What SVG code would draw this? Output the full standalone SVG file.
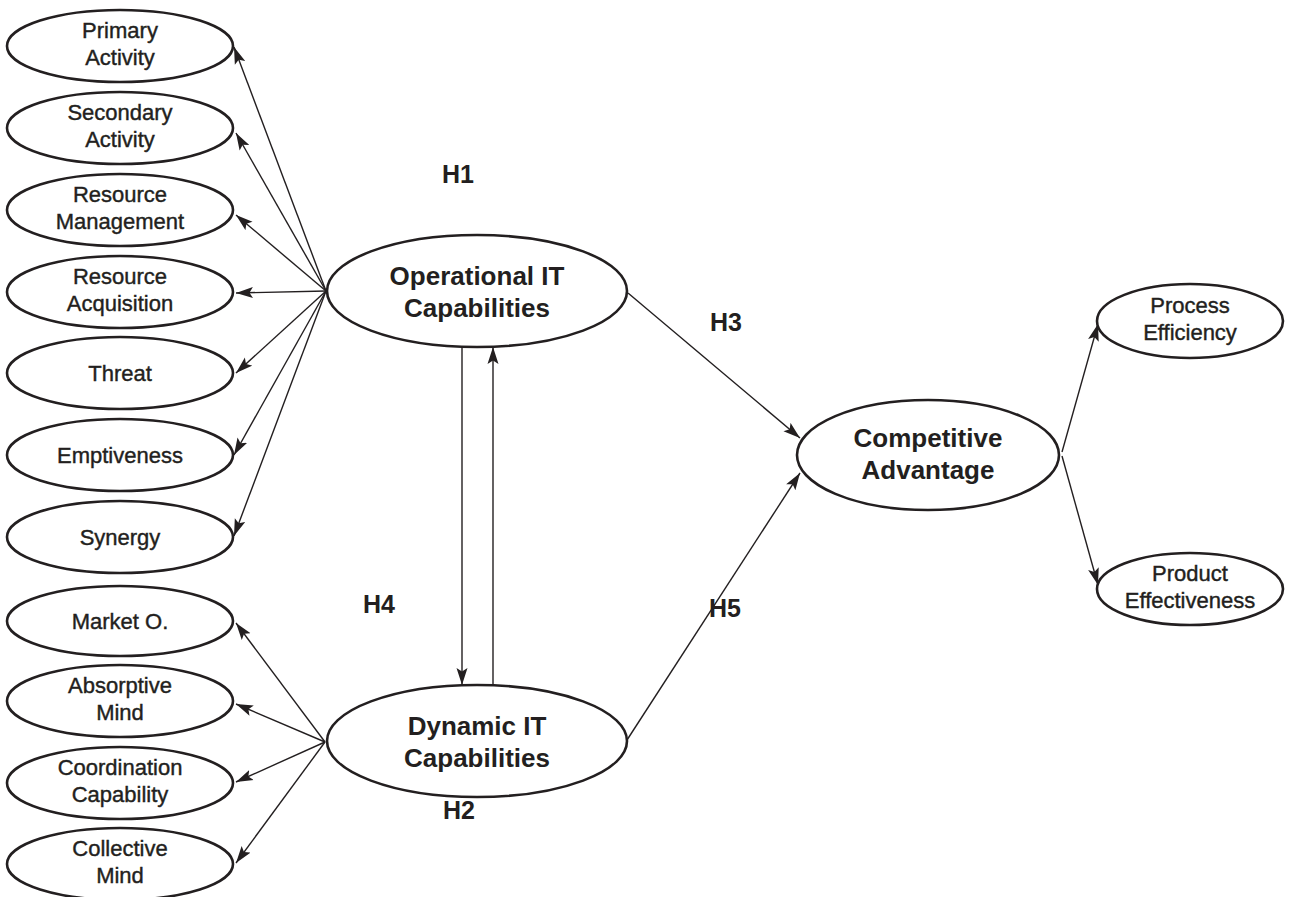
<svg xmlns="http://www.w3.org/2000/svg" width="1291" height="897" viewBox="0 0 1291 897">
<style>
.node ellipse{fill:#fff;stroke:#231f20;stroke-width:2.6}
.sm{font-family:"Liberation Sans",Arial,sans-serif;font-size:22px;fill:#231f20;text-anchor:middle;stroke:#231f20;stroke-width:0.4}
.bg{font-family:"Liberation Sans",Arial,sans-serif;font-size:26px;font-weight:bold;fill:#231f20;text-anchor:middle}
.hl{font-family:"Liberation Sans",Arial,sans-serif;font-size:25px;font-weight:bold;fill:#231f20;text-anchor:middle}
#connectors line{stroke:#231f20;stroke-width:1.4;marker-end:url(#ah)}
</style>
<defs>
<marker id="ah" markerWidth="18" markerHeight="12" refX="17" refY="6" orient="auto" markerUnits="userSpaceOnUse">
<path d="M0,0.5 L17,6 L0,11.5 L3.5,6 Z" fill="#231f20"/>
</marker>
</defs>
<rect width="1291" height="897" fill="#fff"/>
<g id="connectors">
<line x1="326" y1="291" x2="234" y2="47"/>
<line x1="326" y1="291" x2="236" y2="133"/>
<line x1="326" y1="291" x2="236" y2="215"/>
<line x1="326" y1="291" x2="236" y2="293"/>
<line x1="326" y1="291" x2="236" y2="373"/>
<line x1="326" y1="291" x2="234" y2="455"/>
<line x1="326" y1="291" x2="234" y2="536"/>
<line x1="325" y1="742" x2="236" y2="623"/>
<line x1="325" y1="742" x2="236" y2="704"/>
<line x1="325" y1="742" x2="236" y2="782"/>
<line x1="325" y1="742" x2="236" y2="863"/>
<line x1="462" y1="347" x2="462" y2="685"/>
<line x1="493" y1="685" x2="493" y2="347"/>
<line x1="628" y1="293" x2="800" y2="438"/>
<line x1="627" y1="740" x2="800" y2="473"/>
<line x1="1062" y1="452" x2="1098" y2="324"/>
<line x1="1062" y1="456" x2="1098" y2="585"/>
</g>
<g id="primary-activity" class="node"><ellipse cx="120" cy="46" rx="113" ry="36"/><text class="sm" x="120" y="38">Primary</text><text class="sm" x="120" y="65">Activity</text></g>
<g id="secondary-activity" class="node"><ellipse cx="120" cy="128" rx="113" ry="36"/><text class="sm" x="120" y="120">Secondary</text><text class="sm" x="120" y="147">Activity</text></g>
<g id="resource-management" class="node"><ellipse cx="120" cy="210" rx="113" ry="36"/><text class="sm" x="120" y="202">Resource</text><text class="sm" x="120" y="229">Management</text></g>
<g id="resource-acquisition" class="node"><ellipse cx="120" cy="292" rx="113" ry="36"/><text class="sm" x="120" y="284">Resource</text><text class="sm" x="120" y="311">Acquisition</text></g>
<g id="threat" class="node"><ellipse cx="120" cy="373" rx="113" ry="36"/><text class="sm" x="120" y="381">Threat</text></g>
<g id="emptiveness" class="node"><ellipse cx="120" cy="455" rx="113" ry="36"/><text class="sm" x="120" y="463">Emptiveness</text></g>
<g id="synergy" class="node"><ellipse cx="120" cy="537" rx="113" ry="36"/><text class="sm" x="120" y="545">Synergy</text></g>
<g id="market-o" class="node"><ellipse cx="120" cy="621" rx="113" ry="35"/><text class="sm" x="120" y="629">Market O.</text></g>
<g id="absorptive-mind" class="node"><ellipse cx="120" cy="701" rx="113" ry="36"/><text class="sm" x="120" y="693">Absorptive</text><text class="sm" x="120" y="720">Mind</text></g>
<g id="coordination-capability" class="node"><ellipse cx="120" cy="783" rx="113" ry="36"/><text class="sm" x="120" y="775">Coordination</text><text class="sm" x="120" y="802">Capability</text></g>
<g id="collective-mind" class="node"><ellipse cx="120" cy="864" rx="113" ry="36"/><text class="sm" x="120" y="856">Collective</text><text class="sm" x="120" y="883">Mind</text></g>
<g id="operational-it" class="node"><ellipse cx="477" cy="291" rx="150" ry="56"/><text class="bg" x="477" y="285">Operational IT</text><text class="bg" x="477" y="317">Capabilities</text></g>
<g id="dynamic-it" class="node"><ellipse cx="477" cy="741" rx="150" ry="56"/><text class="bg" x="477" y="735">Dynamic IT</text><text class="bg" x="477" y="767">Capabilities</text></g>
<g id="competitive-advantage" class="node"><ellipse cx="928" cy="455" rx="131" ry="55"/><text class="bg" x="928" y="447">Competitive</text><text class="bg" x="928" y="479">Advantage</text></g>
<g id="process-efficiency" class="node"><ellipse cx="1190" cy="321" rx="93" ry="37"/><text class="sm" x="1190" y="313">Process</text><text class="sm" x="1190" y="340">Efficiency</text></g>
<g id="product-effectiveness" class="node"><ellipse cx="1190" cy="589" rx="93" ry="36"/><text class="sm" x="1190" y="581">Product</text><text class="sm" x="1190" y="608">Effectiveness</text></g>
<g id="labels">
<text class="hl" x="458" y="183">H1</text>
<text class="hl" x="726" y="331">H3</text>
<text class="hl" x="379" y="613">H4</text>
<text class="hl" x="725" y="617">H5</text>
<text class="hl" x="459" y="819">H2</text>
</g>
</svg>
